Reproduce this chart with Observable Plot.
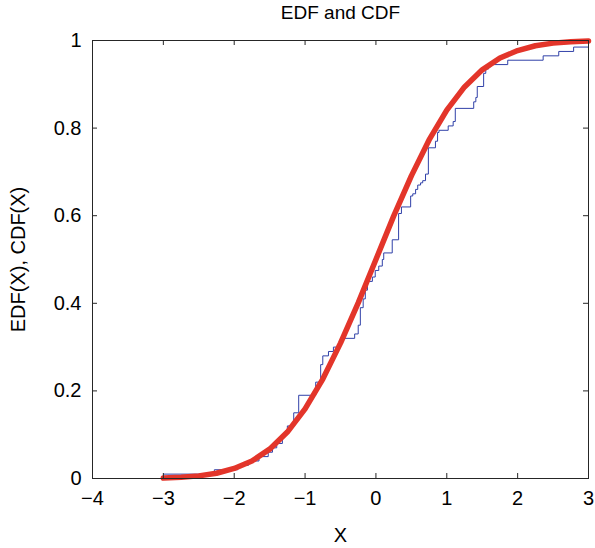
<!DOCTYPE html>
<html>
<head>
<meta charset="utf-8">
<script src="https://cdn.jsdelivr.net/npm/d3@7"></script>
<script src="https://cdn.jsdelivr.net/npm/@observablehq/plot@0.6"></script>
<style>
  body { margin: 0; background: #fff; }
  #chart svg { display: block; }
</style>
</head>
<body>
<div id="chart"></div>
<script>
const edfX = [-3.00, -2.28, -1.95, -1.80, -1.65, -1.52, -1.46, -1.40, -1.32, -1.25, -1.16, -1.09,
  -0.85, -0.78, -0.75, -0.67, -0.60, -0.50, -0.30, -0.25, -0.22, -0.18, -0.15, -0.12, -0.05, -0.01,
  0.04, 0.09, 0.11, 0.23, 0.32, 0.36, 0.49, 0.52, 0.56, 0.59, 0.63, 0.66, 0.70, 0.74, 0.84, 0.87,
  0.89, 1.02, 1.09, 1.12, 1.38, 1.41, 1.43, 1.52, 1.55, 1.59, 1.62, 1.86, 2.36, 2.58, 2.79, 3.00];
const edfY = [0.01, 0.02, 0.03, 0.04, 0.05, 0.06, 0.07, 0.08, 0.10, 0.12, 0.15, 0.19,
  0.22, 0.26, 0.28, 0.29, 0.30, 0.32, 0.33, 0.35, 0.39, 0.41, 0.43, 0.45, 0.46, 0.475,
  0.485, 0.50, 0.515, 0.545, 0.605, 0.62, 0.645, 0.65, 0.66, 0.67, 0.675, 0.68, 0.695, 0.755, 0.77, 0.79,
  0.795, 0.805, 0.815, 0.845, 0.86, 0.87, 0.895, 0.925, 0.935, 0.94, 0.945, 0.955, 0.965, 0.975, 0.985, 0.985];

// Theoretical CDF
const cdfX = [-3, -2.75, -2.5, -2.25, -2, -1.75, -1.5, -1.25, -1, -0.75, -0.5, -0.25, 0,
  0.25, 0.5, 0.75, 1, 1.25, 1.5, 1.75, 2, 2.25, 2.5, 2.75, 3];
const cdfY = [0.001, 0.003, 0.006, 0.012, 0.023, 0.040, 0.067, 0.106, 0.159, 0.227, 0.309, 0.401, 0.5,
  0.599, 0.691, 0.773, 0.841, 0.894, 0.933, 0.960, 0.977, 0.988, 0.994, 0.997, 0.999];

const xTicks = [-4, -3, -2, -1, 0, 1, 2, 3];
const yTicks = [0, 0.2, 0.4, 0.6, 0.8, 1];
const titleText = "EDF and CDF";
const xLabel = "X";
const yLabel = "EDF(X), CDF(X)";

const edf = edfX.map((x, i) => ({x, y: edfY[i]}));
const cdf = cdfX.map((x, i) => ({x, y: cdfY[i]}));

const W = 595, H = 548, mt = 40, mb = 70, ml = 92, mr = 7;
const innerW = W - ml - mr, innerH = H - mt - mb;
const tk = 5;
const fmt = d => String(d).replace("-", "\u2212");

const chart = Plot.plot({
  width: W, height: H,
  marginTop: mt, marginBottom: mb, marginLeft: ml, marginRight: mr,
  style: {fontFamily: "'Liberation Sans', Arial, sans-serif", fontSize: "20px", background: "#fff", color: "#000", overflow: "visible"},
  x: {domain: [-4, 3]},
  y: {domain: [0, 1]},
  marks: [
    Plot.line(edf, {x: "x", y: "y", curve: "step-after", stroke: "#3040a8", strokeWidth: 1}),
    Plot.line(cdf, {x: "x", y: "y", stroke: "#e3352a", strokeWidth: 5.5, strokeLinejoin: "round"}),
    Plot.frame({stroke: "#262626", strokeWidth: 1}),
    Plot.tickX(xTicks, {x: d => d, insetTop: innerH - tk, stroke: "#262626"}),
    Plot.tickX(xTicks, {x: d => d, insetBottom: innerH - tk, stroke: "#262626"}),
    Plot.tickY(yTicks, {y: d => d, insetRight: innerW - tk, stroke: "#262626"}),
    Plot.tickY(yTicks, {y: d => d, insetLeft: innerW - tk, stroke: "#262626"}),
    Plot.axisX({ticks: xTicks, tickSize: 0, tickPadding: 12, label: null, tickFormat: fmt, fontSize: 20}),
    Plot.axisY({ticks: yTicks, tickSize: 0, tickPadding: 11, label: null, tickFormat: fmt, fontSize: 20}),
    Plot.text([titleText], {frameAnchor: "top", dy: -28, lineAnchor: "middle", fontSize: 19}),
    Plot.text([xLabel], {frameAnchor: "bottom", dy: 57, lineAnchor: "middle", fontSize: 20}),
    Plot.text([yLabel], {frameAnchor: "left", dx: -74, rotate: -90, textAnchor: "middle", fontSize: 20})
  ]
});
document.getElementById("chart").appendChild(chart);
</script>
</body>
</html>
